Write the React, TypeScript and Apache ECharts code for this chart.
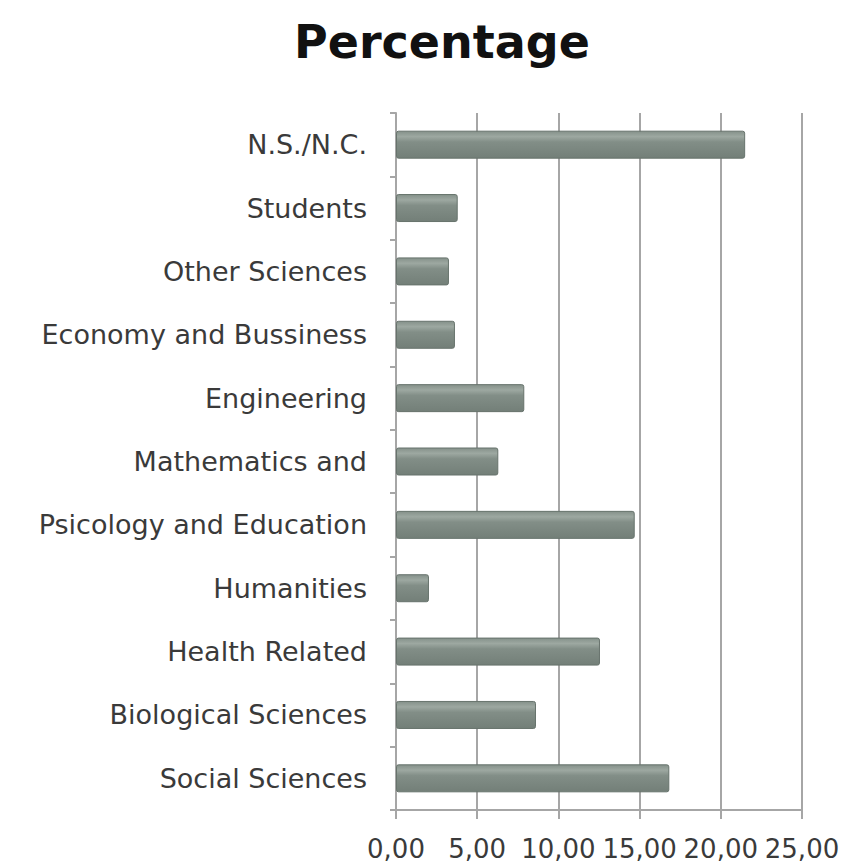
import React, { useEffect, useRef } from "react";
import * as echarts from "echarts";

const categories = [
  "Social Sciences",
  "Biological Sciences",
  "Health Related",
  "Humanities",
  "Psicology and Education",
  "Mathematics and",
  "Engineering",
  "Economy and Bussiness",
  "Other Sciences",
  "Students",
  "N.S./N.C.",
];
const percentages = [16.83, 8.62, 12.56, 2.03, 14.7, 6.3, 7.9, 3.63, 3.26, 3.8, 21.5];
const xMin = 0;
const xMax = 25;
const xStep = 5;

export default function App() {
  const ref = useRef<HTMLDivElement>(null);
  useEffect(() => {
    document.body.style.margin = "0";
    if (!ref.current) return;
    const chart = echarts.init(ref.current, undefined, { renderer: "svg" });
    const font = "'DejaVu Sans', sans-serif";
    chart.setOption({
      animation: false,
      backgroundColor: "#ffffff",
      title: {
        text: "Percentage",
        left: 289,
        top: 14,
        textStyle: { fontFamily: font, fontSize: 46, fontWeight: "bold", color: "#111111" },
      },
      grid: { left: 396, right: 41, top: 113, bottom: 57, containLabel: false },
      xAxis: {
        type: "value",
        min: xMin,
        max: xMax,
        interval: xStep,
        axisLine: { show: true, lineStyle: { color: "#a6a6a6", width: 2 } },
        axisTick: { show: true, length: 9, lineStyle: { color: "#a6a6a6", width: 2 } },
        splitLine: { show: true, lineStyle: { color: "#a6a6a6", width: 2 } },
        axisLabel: {
          fontFamily: font,
          fontSize: 26,
          color: "#3a3a3a",
          margin: 26,
          formatter: (v: number) => v.toFixed(2).replace(".", ","),
        },
      },
      yAxis: {
        type: "category",
        data: categories,
        axisLine: { show: true, lineStyle: { color: "#a6a6a6", width: 2 } },
        axisTick: { show: true, length: 6, lineStyle: { color: "#a6a6a6", width: 2 } },
        axisLabel: { fontFamily: font, fontSize: 27, color: "#3a3a3a", margin: 29 },
      },
      series: [
        {
          type: "bar",
          data: percentages,
          barWidth: 28,
          itemStyle: {
            borderColor: "#67736c",
            borderWidth: 1,
            borderRadius: 2,
            color: new echarts.graphic.LinearGradient(0, 0, 0, 1, [
              { offset: 0, color: "#85918a" },
              { offset: 0.2, color: "#9da8a1" },
              { offset: 0.4, color: "#828e87" },
              { offset: 1, color: "#737f78" },
            ]),
          },
        },
      ],
    });
    return () => chart.dispose();
  }, []);
  return <div ref={ref} style={{ width: 843, height: 867 }} />;
}
